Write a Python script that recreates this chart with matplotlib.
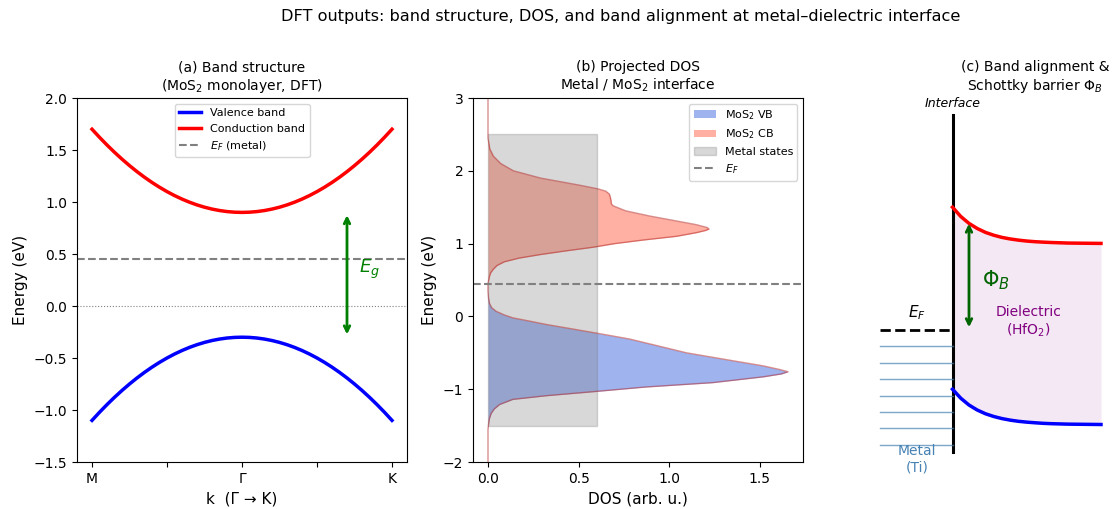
import numpy as np
import matplotlib
matplotlib.use("Agg")
from matplotlib import pyplot as plt

# (a) band structure along M - Gamma - K (symmetric about Gamma)
k_half = [-1.0, -0.95, -0.9, -0.85, -0.8, -0.75, -0.7, -0.65, -0.6, -0.55, -0.5,
          -0.45, -0.4, -0.35, -0.3, -0.25, -0.2, -0.15, -0.1, -0.05, 0.0]
cb_half = [1.700, 1.622, 1.548, 1.478, 1.412, 1.350, 1.292, 1.238, 1.188, 1.142, 1.100,
           1.062, 1.028, 0.998, 0.972, 0.950, 0.932, 0.918, 0.908, 0.902, 0.900]
vb_half = [-1.100, -1.022, -0.948, -0.878, -0.812, -0.750, -0.692, -0.638, -0.588, -0.542, -0.500,
           -0.462, -0.428, -0.398, -0.372, -0.350, -0.332, -0.318, -0.308, -0.302, -0.300]
k = k_half + [-x for x in k_half[-2::-1]]
e_cb = cb_half + cb_half[-2::-1]
e_vb = vb_half + vb_half[-2::-1]
k_ticks = [-1.0, -0.5, 0.0, 0.5, 1.0]
k_labels = ["M", "", "Γ", "", "K"]
ef_metal = 0.45
gap_lo, gap_hi = -0.3, 0.9

# (b) projected DOS
e_dos_cb = [2.45, 2.3, 2.2, 2.1, 2.0, 1.9, 1.8, 1.75, 1.72, 1.68, 1.64, 1.58, 1.55, 1.52,
            1.45, 1.38, 1.32, 1.26, 1.22, 1.20, 1.18, 1.15, 1.10, 1.05, 1.00, 0.95,
            0.90, 0.85, 0.80, 0.75, 0.70, 0.65, 0.60, 0.55, 0.50, 0.45]
dos_cb = [0.0, 0.01, 0.03, 0.07, 0.14, 0.29, 0.51, 0.61, 0.65, 0.67, 0.675, 0.68, 0.68, 0.69,
          0.76, 0.89, 1.02, 1.15, 1.21, 1.22, 1.20, 1.15, 1.04, 0.86, 0.70, 0.58,
          0.43, 0.29, 0.17, 0.09, 0.05, 0.03, 0.015, 0.008, 0.004, 0.0]
e_dos_vb = [0.35, 0.25, 0.18, 0.12, 0.07, 0.02, -0.02, -0.06, -0.11, -0.17, -0.23, -0.31,
            -0.40, -0.50, -0.60, -0.68, -0.73, -0.76, -0.79, -0.83, -0.87, -0.91, -0.97,
            -1.03, -1.09, -1.14, -1.21, -1.27, -1.33, -1.40, -1.46, -1.55]
dos_vb = [0.0, 0.003, 0.008, 0.02, 0.045, 0.09, 0.137, 0.22, 0.32, 0.46, 0.60, 0.78,
          0.93, 1.095, 1.33, 1.52, 1.61, 1.656, 1.62, 1.52, 1.38, 1.24, 0.87,
          0.60, 0.32, 0.137, 0.064, 0.035, 0.018, 0.008, 0.004, 0.0]
metal_dos = 0.6
metal_lo, metal_hi = -1.5, 2.5

# (c) band alignment across the interface
x_diel = [0.0, 0.25, 0.5, 0.75, 1.0, 1.25, 1.5, 1.75, 2.0, 2.25, 2.5, 2.75, 3.0, 3.5, 4.0, 4.5]
cb_diel = [1.35, 1.248, 1.172, 1.116, 1.073, 1.042, 1.018, 1.001, 0.988, 0.978, 0.971,
           0.966, 0.962, 0.956, 0.954, 0.952]
vb_diel = [-0.65, -0.749, -0.824, -0.879, -0.920, -0.950, -0.973, -0.990, -1.003, -1.012,
           -1.019, -1.025, -1.029, -1.034, -1.036, -1.038]
metal_levels = [-0.18, -0.36, -0.54, -0.72, -0.90, -1.08, -1.26]
ef_align = 0.0
phi_top = 1.2

fig = plt.figure(figsize=(11.13, 5.09), dpi=100)
W, H = 1113.0, 509.0
ax1 = fig.add_axes([77 / W, 47 / H, 330 / W, 364 / H])
ax2 = fig.add_axes([473 / W, 47 / H, 330 / W, 364 / H])
ax3 = fig.add_axes([870 / W, 47 / H, 330 / W, 364 / H])

fig.suptitle("DFT outputs: band structure, DOS, and band alignment at metal–dielectric interface",
             x=621 / W, y=0.982, fontsize=11.6)

# ---- (a)
ax1.plot(k, e_vb, color="blue", lw=2.5, label="Valence band")
ax1.plot(k, e_cb, color="red", lw=2.5, label="Conduction band")
ax1.axhline(ef_metal, color="gray", ls="--", lw=1.5, label="$E_F$ (metal)")
ax1.axhline(0, color="gray", ls=":", lw=0.8)
ax1.annotate("", xy=(0.7, gap_hi), xytext=(0.7, gap_lo),
             arrowprops=dict(arrowstyle="<->", color="green", lw=2))
ax1.text(0.78, 0.35, "$E_g$", color="green", fontsize=13, va="center")
ax1.set_ylim(-1.5, 2.0)
ax1.set_xticks(k_ticks)
ax1.set_xticklabels(k_labels)
ax1.set_xlabel("k  (Γ → K)", fontsize=11)
ax1.set_ylabel("Energy (eV)", fontsize=11)
ax1.set_title("(a) Band structure\n(MoS$_2$ monolayer, DFT)", fontsize=10)
ax1.legend(loc="upper center", fontsize=8)

# ---- (b)
ax2.fill_betweenx(e_dos_vb, 0, dos_vb, color="royalblue", alpha=0.5, lw=0, label="MoS$_2$ VB")
ax2.fill_betweenx(e_dos_cb, 0, dos_cb, color="tomato", alpha=0.5, lw=0, label="MoS$_2$ CB")
ax2.fill_betweenx([metal_lo, metal_hi], 0, metal_dos, color="gray", alpha=0.3,
                  label="Metal states")
e_tot = [3.0] + e_dos_cb + e_dos_vb + [-2.0]
dos_tot = [0.0] + dos_cb + dos_vb + [0.0]
ax2.plot(dos_tot, e_tot, color="firebrick", lw=1, alpha=0.5)
ax2.axhline(ef_metal, color="gray", ls="--", lw=1.5, label="$E_F$")
ax2.set_ylim(-2, 3)
ax2.set_xlabel("DOS (arb. u.)", fontsize=11)
ax2.set_ylabel("Energy (eV)", fontsize=11)
ax2.set_title("(b) Projected DOS\nMetal / MoS$_2$ interface", fontsize=10)
ax2.legend(loc="upper right", fontsize=8)

# ---- (c)
ax3.set_xlim(-2.5, 7.5)
ax3.set_ylim(-1.45, 2.55)
ax3.axis("off")
ax3.plot([0, 0], [-1.34, 2.36], color="black", lw=2.2)
ax3.text(0, 2.49, "Interface", style="italic", ha="center", va="center", fontsize=9)
for lvl in metal_levels:
    ax3.plot([-2.2, 0], [lvl, lvl], color="steelblue", lw=1, alpha=0.7)
ax3.plot([-2.2, 0], [ef_align, ef_align], color="black", ls="--", lw=2)
ax3.text(-1.08, 0.19, "$E_F$", ha="center", va="center", fontsize=11)
ax3.text(-1.08, -1.42, "Metal\n(Ti)", color="steelblue", ha="center", va="center", fontsize=10)
ax3.fill_between(x_diel, vb_diel, cb_diel, color="purple", alpha=0.09, lw=0)
ax3.plot(x_diel, cb_diel, color="red", lw=2.5)
ax3.plot(x_diel, vb_diel, color="blue", lw=2.5)
ax3.annotate("", xy=(0.5, phi_top), xytext=(0.5, ef_align),
             arrowprops=dict(arrowstyle="<->", color="darkgreen", lw=2))
ax3.text(0.9, 0.55, "$\\Phi_B$", color="darkgreen", fontsize=15, va="center")
ax3.text(2.3, 0.09, "Dielectric\n(HfO$_2$)", color="purple", ha="center", va="center",
         fontsize=10)
ax3.set_title("(c) Band alignment &\nSchottky barrier $\\Phi_B$", fontsize=10)

fig.savefig("out.png", dpi=100)
